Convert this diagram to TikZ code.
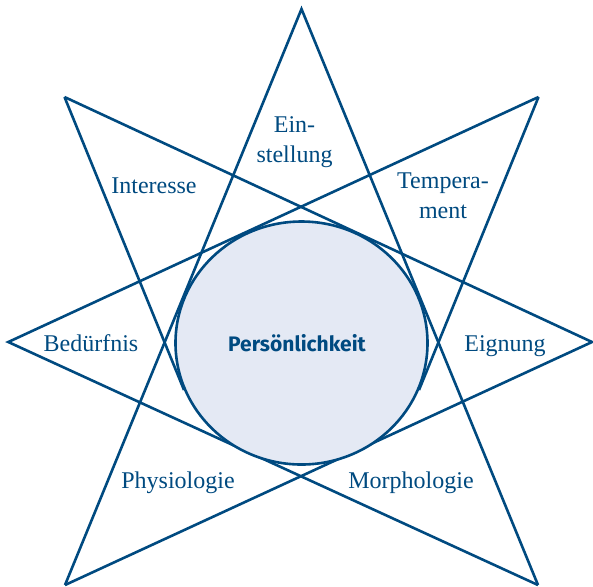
\documentclass[tikz,border=0pt]{standalone}
\usepackage{fontspec}
\setmainfont{Liberation Serif}
\setsansfont{Fira Sans}
\usetikzlibrary{shapes.geometric}
\definecolor{starblue}{RGB}{0,74,128}
\definecolor{corefill}{RGB}{228,233,244}
\begin{document}
\begin{tikzpicture}[x=0.5pt,y=-0.5pt,
  starline/.style={draw=starblue,line width=1.3pt,line join=miter},
  facet/.style={text=starblue,font=\fontsize{12}{15}\selectfont,inner sep=0pt,align=center},
  core/.style={ellipse,draw=starblue,fill=corefill,line width=1.3pt,
    minimum width=126pt,minimum height=121.5pt,inner sep=0pt},
  coretext/.style={text=starblue,inner sep=0pt,font=\sffamily\bfseries\fontsize{10.5}{12}\selectfont}]
\useasboundingbox (0,0) rectangle (593,586);
\clip (0,0) rectangle (593,586);
% tips of the star
\coordinate (T)  at (301.5,9);
\coordinate (TL) at (64.5,97);
\coordinate (TR) at (538.5,97);
\coordinate (L)  at (8.3,342);
\coordinate (R)  at (592,342);
\coordinate (BL) at (65,585);
\coordinate (BR) at (538,585);
% where the two steep upper rays touch the disc
\coordinate (TLend) at (184,390);
\coordinate (TRend) at (419,390);
% star rays
\draw[starline] (BL) -- (T) -- (BR);
\draw[starline] (TR) -- (L) -- (BR);
\draw[starline] (TL) -- (R) -- (BL);
\draw[starline] (TL) -- (TLend);
\draw[starline] (TR) -- (TRend);
% central disc
\node[core] (pers) at (301.5,343) {};
\node[coretext] (perslabel) at (297,343.5) {Persönlichkeit};
% labels in the tips
\node[facet] (einst) at (294.5,142) {Ein-\\stellung};
\node[facet] (temp)  at (443,196) {Tempera-\\ment};
\node[facet,anchor=base] (inter) at (154,193) {Interesse};
\node[facet,anchor=base] (bed)   at (91,351) {Bedürfnis};
\node[facet,anchor=base] (eign)  at (505,351) {Eignung};
\node[facet,anchor=base] (phys)  at (178,488) {Physiologie};
\node[facet,anchor=base] (morph) at (411,488) {Morphologie};
\end{tikzpicture}
\end{document}
